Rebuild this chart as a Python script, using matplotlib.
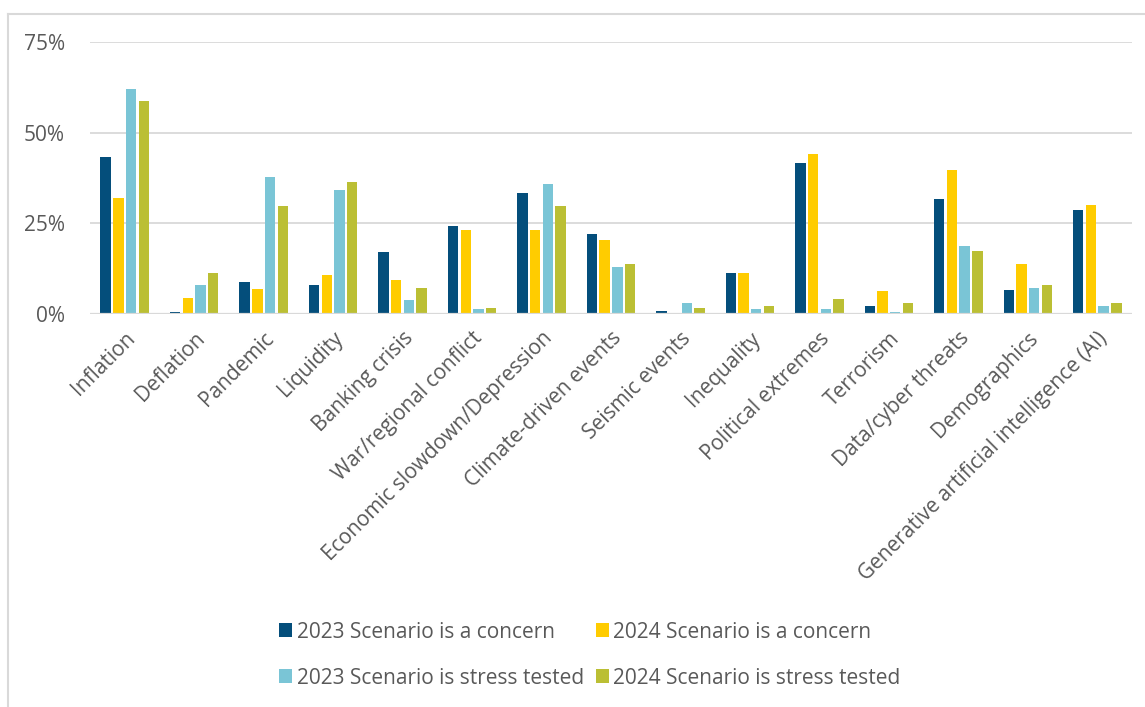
import matplotlib.pyplot as plt
import numpy as np
from matplotlib.lines import Line2D
from matplotlib.ticker import FuncFormatter

plt.rcParams["font.family"] = ["Open Sans", "DejaVu Sans"]

# ── Data (share of respondents, %) ────────────────────────────────────────────
categories = [
    "Inflation", "Deflation", "Pandemic", "Liquidity", "Banking crisis",
    "War/regional conflict", "Economic slowdown/Depression",
    "Climate-driven events", "Seismic events", "Inequality",
    "Political extremes", "Terrorism", "Data/cyber threats", "Demographics",
    "Generative artificial intelligence (AI)",
]
concern_2023 = [43.4, 0.6, 8.9, 8.1, 17.2, 24.4, 33.5, 22.1, 0.7, 11.3, 41.8, 2.3, 31.8, 6.5, 28.6]
concern_2024 = [31.9, 4.4, 7.0, 10.8, 9.5, 23.1, 23.1, 20.5, 0.0, 11.3, 44.1, 6.3, 39.7, 13.9, 30.0]
stress_2023 = [62.2, 8.1, 37.7, 34.3, 4.0, 1.5, 36.0, 13.0, 3.1, 1.5, 1.5, 0.6, 18.7, 7.3, 2.3]
stress_2024 = [58.7, 11.4, 29.7, 36.3, 7.3, 1.6, 29.7, 13.9, 1.6, 2.3, 4.1, 3.1, 17.3, 8.1, 3.1]

series_labels = [
    "2023 Scenario is a concern", "2024 Scenario is a concern",
    "2023 Scenario is stress tested", "2024 Scenario is stress tested",
]
colors = ["#044e7b", "#ffcc00", "#7ac5d6", "#bbbf34"]
TEXT = "#595959"
GRID = "#d9d9d9"
FS = 15

# ── Figure ────────────────────────────────────────────────────────────────────
W, H = 1145, 707
fig = plt.figure(figsize=(W / 100, H / 100), dpi=100)
ax = fig.add_axes([90 / W, 1 - 314 / H, (1132 - 90) / W, (314 - 42.3) / H])

x = np.arange(len(categories))
slot = 0.183
bar_w = 0.15
all_series = [concern_2023, concern_2024, stress_2023, stress_2024]
handles = []
for i, (vals, col, lab) in enumerate(zip(all_series, colors, series_labels)):
    bars = ax.bar(x + (i - 1.5) * slot, vals, width=bar_w, color=col,
                  label=lab, zorder=3)
    handles.append(bars)

ax.set_xlim(-0.5, len(categories) - 0.5)
ax.set_ylim(0, 75)
ax.set_yticks([0, 25, 50, 75])
ax.yaxis.set_major_formatter(FuncFormatter(lambda v, _: f"{v:.0f}%"))
ax.grid(axis="y", color=GRID, linewidth=1.3, zorder=0)
for s in ax.spines.values():
    s.set_visible(False)
ax.axhline(0, color=GRID, linewidth=1.6, zorder=4)

ax.tick_params(axis="both", length=0, colors=TEXT, labelsize=FS)
ax.tick_params(axis="y", pad=18)
ax.tick_params(axis="x", pad=10)
ax.set_xticks(x)
ax.set_xticklabels(categories, rotation=45, ha="right", rotation_mode="anchor",
                   color=TEXT, fontsize=FS)

# legend filled row by row: reorder for matplotlib's column-major layout
order = [0, 2, 1, 3]
fig.legend(
    handles=[handles[k] for k in order], labels=[series_labels[k] for k in order],
    ncol=2, loc="center", bbox_to_anchor=(590 / W, 1 - 655 / H),
    frameon=False, fontsize=FS, labelcolor=TEXT,
    handlelength=0.62, handleheight=0.62, handletextpad=0.2,
    columnspacing=0.6, labelspacing=1.2,
)

# light chart-area frame (left and top edges)
fig.add_artist(Line2D([8 / W, 8 / W], [0, 1 - 14 / H], transform=fig.transFigure,
                      color=GRID, linewidth=1.5))
fig.add_artist(Line2D([8 / W, 1], [1 - 14 / H, 1 - 14 / H], transform=fig.transFigure,
                      color=GRID, linewidth=1.5))

fig.savefig("out.png", dpi=100)
